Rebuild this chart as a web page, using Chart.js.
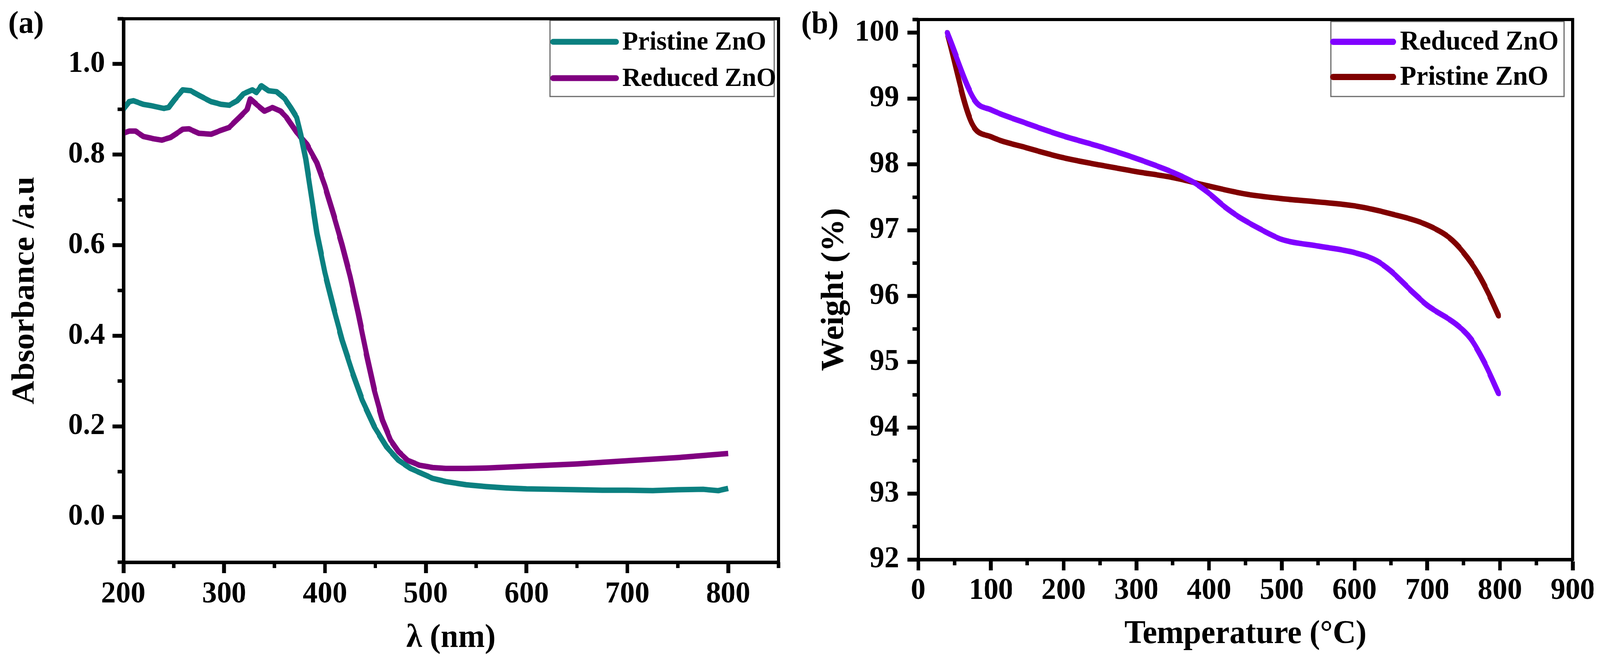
<!DOCTYPE html>
<html>
<head>
<meta charset="utf-8">
<script src="https://cdn.jsdelivr.net/npm/chart.js@4.4.1/dist/chart.umd.min.js"></script>
<style>
  html, body { margin: 0; padding: 0; background: #fff; overflow: hidden; }
  #wrap { position: relative; width: 4217px; height: 1697px; transform-origin: 0 0; }
  canvas { position: absolute; top: 0; }
  #chartA { left: 0; }
  #chartB { left: 2110px; }
</style>
</head>
<body>
<div id="wrap">
  <canvas id="chartA" width="2110" height="1697"></canvas>
  <canvas id="chartB" width="2107" height="1697"></canvas>
</div>
<script>
// (a) UV-vis absorbance
const wlPristine = [200, 206, 210, 220, 230, 240, 245, 251, 259, 267, 275, 287, 297, 305, 313, 319, 328, 332, 337, 344, 352, 360, 366, 372, 376, 381, 386, 392, 400, 409, 417, 427, 437, 449, 461, 473, 485, 500, 507, 520, 540, 560, 580, 600, 625, 650, 675, 700, 725, 750, 775, 790, 800];
const absPristine = [0.900, 0.917, 0.919, 0.911, 0.907, 0.902, 0.904, 0.922, 0.943, 0.941, 0.931, 0.917, 0.911, 0.909, 0.919, 0.934, 0.943, 0.937, 0.952, 0.941, 0.939, 0.924, 0.904, 0.882, 0.845, 0.790, 0.716, 0.627, 0.539, 0.458, 0.391, 0.321, 0.258, 0.199, 0.155, 0.125, 0.107, 0.092, 0.085, 0.078, 0.071, 0.067, 0.064, 0.062, 0.061, 0.060, 0.059, 0.059, 0.058, 0.060, 0.061, 0.058, 0.063];
const wlReduced = [200, 206, 212, 220, 230, 238, 247, 259, 265, 275, 287, 295, 305, 315, 323, 326, 332, 340, 348, 356, 362, 372, 382, 392, 400, 409, 417, 425, 433, 441, 449, 457, 465, 473, 482, 494, 507, 520, 540, 560, 600, 650, 700, 750, 800];
const absReduced = [0.847, 0.852, 0.852, 0.840, 0.835, 0.832, 0.838, 0.856, 0.857, 0.847, 0.845, 0.852, 0.860, 0.882, 0.900, 0.923, 0.911, 0.896, 0.904, 0.896, 0.882, 0.849, 0.823, 0.782, 0.731, 0.664, 0.601, 0.531, 0.450, 0.362, 0.280, 0.214, 0.170, 0.144, 0.125, 0.114, 0.109, 0.107, 0.107, 0.108, 0.112, 0.117, 0.124, 0.131, 0.140];
const wlTicks = [200, 300, 400, 500, 600, 700, 800];
const absTicks = [0.0, 0.2, 0.4, 0.6, 0.8, 1.0];

// (b) TGA weight loss
const tempReduced = [40, 78, 100, 150, 200, 250, 300, 350, 380, 400, 420, 440, 470, 500, 550, 600, 630, 650, 680, 700, 740, 760, 780, 798];
const weightReduced = [100.0, 98.97, 98.83, 98.62, 98.43, 98.27, 98.09, 97.88, 97.72, 97.56, 97.37, 97.21, 97.02, 96.86, 96.76, 96.66, 96.54, 96.38, 96.06, 95.86, 95.57, 95.35, 94.96, 94.52];
const tempPristine = [40, 74, 100, 150, 200, 250, 300, 350, 400, 450, 500, 550, 600, 650, 700, 730, 750, 770, 785, 798];
const weightPristine = [100.0, 98.62, 98.42, 98.25, 98.10, 97.99, 97.89, 97.80, 97.67, 97.55, 97.48, 97.43, 97.37, 97.25, 97.08, 96.89, 96.66, 96.34, 96.02, 95.70];
const tempTicks = [0, 100, 200, 300, 400, 500, 600, 700, 800, 900];
const weightTicks = [92, 93, 94, 95, 96, 97, 98, 99, 100];

const FONT = '"Liberation Serif", "Times New Roman", serif';
Chart.defaults.font.family = FONT;
Chart.defaults.font.weight = 'bold';
Chart.defaults.color = '#000';

const zip = (xs, ys) => xs.map((x, i) => ({ x: x, y: ys[i] }));
const isMajor = (v, list) => list.some(t => Math.abs(t - v) < 1e-6);

// the page is laid out at 4217x1697; shrink it if the window is smaller
function fitPage() {
    const wrap = document.getElementById("wrap");
    const sx = window.innerWidth / 4217;
    const sy = window.innerHeight / 1697;
    wrap.style.transform = "scale(" + sx + "," + sy + ")";
}

// frame, minor ticks, boxed legend and panel letter
const decor = {
    id: "decor",
    afterDraw(chart, args, opts) {
        const ctx = chart.ctx;
        const a = chart.chartArea;
        const xs = chart.scales.x, ys = chart.scales.y;
        ctx.save();

        const lg = opts.legend;
        ctx.fillStyle = "#fff";
        ctx.fillRect(lg.left, lg.top, lg.right - lg.left, lg.bottom - lg.top);
        ctx.strokeStyle = "#6a6a6a";
        ctx.lineWidth = 3;
        ctx.strokeRect(lg.left, lg.top, lg.right - lg.left, lg.bottom - lg.top);
        chart.data.datasets.forEach((ds, i) => {
            const y = lg.rows[i];
            ctx.strokeStyle = ds.borderColor;
            ctx.lineWidth = lg.lineWidth;
            ctx.lineCap = "round";
            ctx.beginPath();
            ctx.moveTo(lg.lineX0, y);
            ctx.lineTo(lg.lineX1, y);
            ctx.stroke();
            ctx.fillStyle = "#000";
            ctx.font = "bold " + lg.fontSize + "px " + FONT;
            ctx.textBaseline = "middle";
            ctx.textAlign = "left";
            ctx.fillText(ds.label, lg.textX, y + 2);
        });

        ctx.strokeStyle = "#000";
        ctx.lineWidth = 8;
        ctx.lineCap = "square";
        ctx.strokeRect(a.left, a.top, a.right - a.left, a.bottom - a.top);

        ctx.lineWidth = 9;
        ctx.lineCap = "butt";
        ctx.beginPath();
        xs.ticks.forEach(t => {
            if (isMajor(t.value, opts.xMajor)) return;
            const px = xs.getPixelForValue(t.value);
            ctx.moveTo(px, a.bottom);
            ctx.lineTo(px, a.bottom + 15);
        });
        ys.ticks.forEach(t => {
            if (isMajor(t.value, opts.yMajor)) return;
            const py = ys.getPixelForValue(t.value);
            ctx.moveTo(a.left, py);
            ctx.lineTo(a.left - 15, py);
        });
        ctx.stroke();

        ctx.fillStyle = "#000";
        ctx.font = "bold 80px " + FONT;
        ctx.textBaseline = "alphabetic";
        ctx.textAlign = "left";
        ctx.fillText(opts.label.text, opts.label.x, opts.label.y);
        ctx.restore();
    },
};

function axisX(min, max, step, majors, title, size, pad, titlePad) {
    return {
        type: "linear",
        min: min,
        max: max,
        bounds: "data",
        grid: {
            drawOnChartArea: false,
            tickLength: 28,
            tickWidth: 10,
            tickColor: (c) => (c.tick && isMajor(c.tick.value, majors) ? "#000" : "rgba(0,0,0,0)"),
        },
        border: { display: true, color: "#000", width: 9 },
        ticks: {
            stepSize: step,
            autoSkip: false,
            maxRotation: 0,
            includeBounds: false,
            padding: pad,
            font: { size: 78, weight: "bold", lineHeight: 1.2 },
            callback: (v) => (isMajor(v, majors) ? String(v) : ""),
        },
        title: {
            display: true,
            text: title,
            font: { size: 84, weight: "bold", lineHeight: 1.2 },
            padding: { top: 0, bottom: titlePad },
        },
        afterFit: (s) => {
            s.height = size;
            s.paddingLeft = 0;
            s.paddingRight = 0;
        },
    };
}

function axisY(min, max, step, majors, digits, title, size, pad, titlePad) {
    return {
        type: "linear",
        min: min,
        max: max,
        bounds: "data",
        grid: {
            drawOnChartArea: false,
            tickLength: 28,
            tickWidth: 10,
            tickColor: (c) => (c.tick && isMajor(c.tick.value, majors) ? "#000" : "rgba(0,0,0,0)"),
        },
        border: { display: true, color: "#000", width: 9 },
        ticks: {
            stepSize: step,
            autoSkip: false,
            includeBounds: false,
            padding: pad,
            font: { size: 78, weight: "bold", lineHeight: 1.2 },
            callback: (v) => (isMajor(v, majors) ? Number(v).toFixed(digits) : ""),
        },
        title: {
            display: true,
            text: title,
            font: { size: 84, weight: "bold", lineHeight: 1.2 },
            padding: { top: titlePad, bottom: 0 },
        },
        afterFit: (s) => {
            s.width = size;
            s.paddingTop = 0;
            s.paddingBottom = 0;
        },
    };
}

document.addEventListener("DOMContentLoaded", () => {
    fitPage();

    new Chart(document.getElementById("chartA").getContext("2d"), {
        type: "line",
        data: {
            datasets: [
                {
                    label: "Pristine ZnO",
                    data: zip(wlPristine, absPristine),
                    borderColor: "#0b8080",
                    borderWidth: 14,
                    pointRadius: 0,
                    tension: 0,
                    borderJoinStyle: "round",
                },
                {
                    label: "Reduced ZnO",
                    data: zip(wlReduced, absReduced),
                    borderColor: "#800080",
                    borderWidth: 14,
                    pointRadius: 0,
                    tension: 0,
                    borderJoinStyle: "round",
                },
            ],
        },
        options: {
            responsive: false,
            animation: false,
            layout: { padding: { left: 0, right: 58, top: 48, bottom: 0 } },
            scales: {
                x: axisX(200, 850, 50, wlTicks, "λ (nm)", 258, 8, 12),
                y: axisY(-0.1, 1.1, 0.1, absTicks, 1, "Absorbance /a.u", 325, 20, 17),
            },
            plugins: {
                legend: { display: false },
                tooltip: { enabled: false },
                decor: {
                    xMajor: wlTicks,
                    yMajor: absTicks,
                    label: { text: "(a)", x: 22, y: 84 },
                    legend: {
                        left: 1450, top: 52, right: 2041, bottom: 247,
                        rows: [107, 200], lineX0: 1458, lineX1: 1624, textX: 1640,
                        fontSize: 68, lineWidth: 15,
                    },
                },
            },
        },
        plugins: [decor],
    });

    new Chart(document.getElementById("chartB").getContext("2d"), {
        type: "line",
        data: {
            datasets: [
                {
                    label: "Reduced ZnO",
                    data: zip(tempReduced, weightReduced),
                    borderColor: "#8000ff",
                    borderWidth: 14,
                    pointRadius: 0,
                    cubicInterpolationMode: "monotone",
                    borderCapStyle: "round",
                },
                {
                    label: "Pristine ZnO",
                    data: zip(tempPristine, weightPristine),
                    borderColor: "#800000",
                    borderWidth: 14,
                    pointRadius: 0,
                    cubicInterpolationMode: "monotone",
                    borderCapStyle: "round",
                },
            ],
        },
        options: {
            responsive: false,
            animation: false,
            layout: { padding: { left: 0, right: 72, top: 50, bottom: 0 } },
            scales: {
                x: axisX(0, 900, 50, tempTicks, "Temperature (°C)", 265, 6, 22),
                y: axisY(92, 100.2, 0.5, weightTicks, 0, "Weight (%)", 310, 22, 40),
            },
            plugins: {
                legend: { display: false },
                tooltip: { enabled: false },
                decor: {
                    xMajor: tempTicks,
                    yMajor: weightTicks,
                    label: { text: "(b)", x: 2, y: 85 },
                    legend: {
                        left: 1398, top: 55, right: 2012, bottom: 247,
                        rows: [107, 197], lineX0: 1404, lineX1: 1562, textX: 1580,
                        fontSize: 70, lineWidth: 16,
                    },
                },
            },
        },
        plugins: [decor],
    });
});
</script>
</body>
</html>
